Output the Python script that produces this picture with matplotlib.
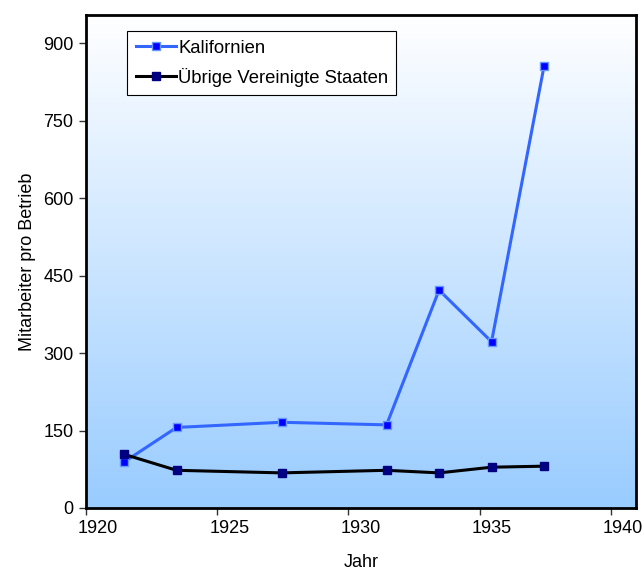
import numpy as np
import matplotlib
matplotlib.use("Agg")
import matplotlib.pyplot as plt
import matplotlib.transforms as mtransforms
from matplotlib.colors import LinearSegmentedColormap

plt.rcParams['font.family'] = ['Liberation Sans', 'DejaVu Sans']

# data
years = [1921.45, 1923.45, 1927.45, 1931.45, 1933.45, 1935.45, 1937.45]
kalifornien = [89, 156, 166, 161, 422, 322, 856]
uebrige_us = [104, 73, 68, 73, 68, 79, 81]
x_ticks = [1920, 1925, 1930, 1935, 1940]
y_ticks = [0, 150, 300, 450, 600, 750, 900]

fig = plt.figure(figsize=(6.44, 5.74), dpi=100)
ax = fig.add_axes([0.1335, 0.115, 0.854, 0.859])

# gradient background: white at top, light blue at bottom
cmap = LinearSegmentedColormap.from_list("bg", ["#99CCFF", "#FFFFFF"])
grad = np.linspace(0, 1, 256).reshape(-1, 1)
ax.imshow(grad, aspect="auto", cmap=cmap, origin="lower",
          extent=[0, 1, 0, 1], transform=ax.transAxes, zorder=0)

ax.plot(years, kalifornien, color="#3366FF", lw=2.2, marker="s", ms=5.5,
        mfc="#0000FF", mec="#6699FF", mew=1, label="Kalifornien", zorder=3)
ax.plot(years, uebrige_us, color="black", lw=2.2, marker="s", ms=5.5,
        mfc="#000080", mec="#000080", label="Übrige Vereinigte Staaten", zorder=3)

ax.set_xlim(1920, 1940.95)
ax.set_ylim(0, 955)
ax.set_xticks(x_ticks)
ax.set_yticks(y_ticks)
ax.tick_params(direction="out", length=5, width=1, color="#333333",
               labelsize=13, pad=4)

# excel puts the year labels a bit right of the ticks
offset = mtransforms.ScaledTranslation(12 / 100, 0, fig.dpi_scale_trans)
for lbl in ax.get_xticklabels():
    lbl.set_transform(lbl.get_transform() + offset)

for s in ax.spines.values():
    s.set_linewidth(2)
    s.set_color("black")

ax.set_xlabel("Jahr", fontsize=13, labelpad=12)
ax.set_ylabel("Mitarbeiter pro Betrieb", fontsize=13, labelpad=5)

leg = ax.legend(loc="upper left", bbox_to_anchor=(0.075, 0.967), fontsize=13.3,
                frameon=True, fancybox=False, edgecolor="black",
                facecolor="white", framealpha=1, handlelength=2.2,
                handletextpad=0.1, borderpad=0.45, labelspacing=0.6,
                borderaxespad=0)
leg.get_frame().set_linewidth(0.8)

fig.savefig("out.png", dpi=100)
